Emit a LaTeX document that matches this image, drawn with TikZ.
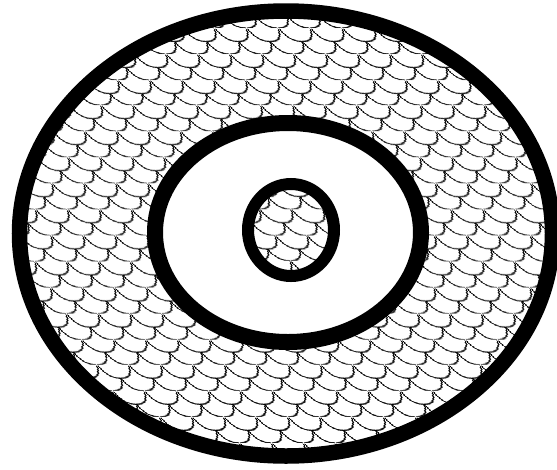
\documentclass[tikz,border=0pt]{standalone}
\usetikzlibrary{shapes.geometric,patterns.meta}

\tikzdeclarepattern{
  name=scales,
  type=uncolored,
  bounding box={(0pt,0pt) and (32pt,26pt)},
  tile size={(32pt,26pt)},
  tile transformation={xslant=-0.6},
  code={
    \draw[line width=1.3pt] (0pt,26pt) .. controls (3pt,15pt) and (9pt,13pt) .. (16pt,13pt)
      .. controls (23pt,13pt) and (29pt,15pt) .. (32pt,26pt);
    \draw[line width=1.3pt] (0pt,0pt) .. controls (7pt,0pt) and (13pt,2pt) .. (16pt,13pt);
    \draw[line width=1.3pt] (16pt,13pt) .. controls (19pt,2pt) and (25pt,0pt) .. (32pt,0pt);
  }
}

\begin{document}
\begin{tikzpicture}[x=1pt,y=-1pt,
  ring/.style={ellipse,draw=black,inner sep=0pt,outer sep=0pt},
  scaled/.style={ring,pattern=scales,pattern color=black}]
\useasboundingbox (0,0) rectangle (557,469);
\node[scaled,line width=15.5pt,minimum width=533pt,minimum height=445pt] (outer) at (286,233.5) {};
\node[ring,fill=white,line width=16pt,minimum width=266pt,minimum height=219pt] (middle) at (288,232.5) {};
\node[scaled,line width=12pt,minimum width=86pt,minimum height=92pt] (inner) at (291,230) {};
\end{tikzpicture}
\end{document}
